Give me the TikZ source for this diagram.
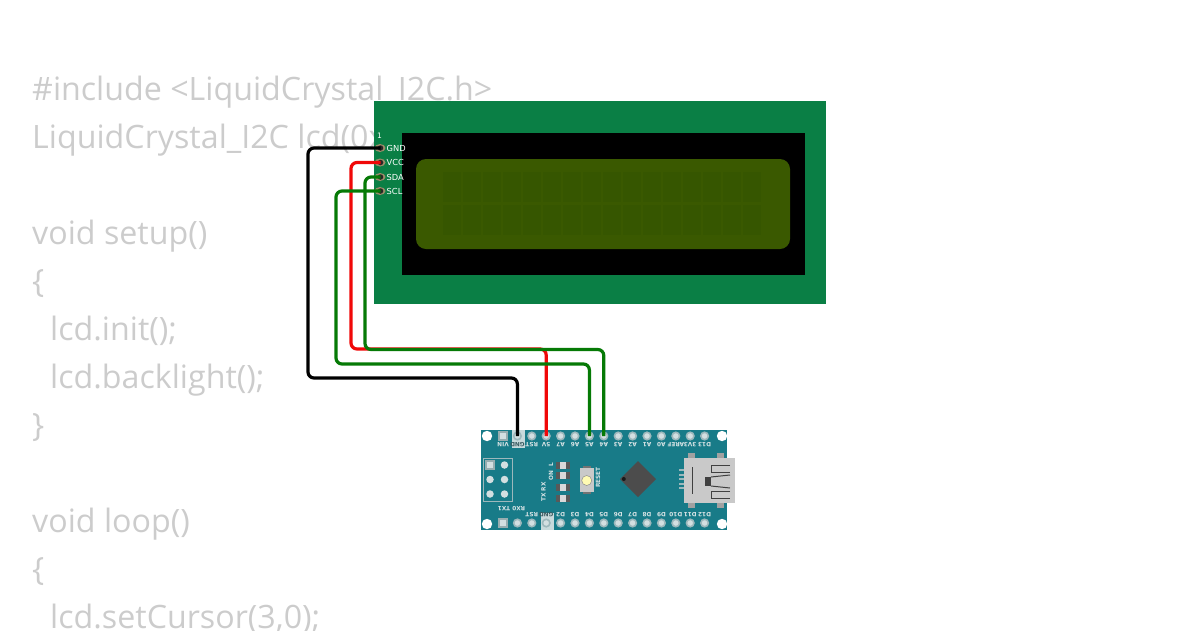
\documentclass[tikz,border=0pt]{standalone}
\usepackage{fontspec}
\setmainfont{Open Sans}
\newfontfamily\pinfont{DejaVu Sans}
\usetikzlibrary{
  shapes.geometric,
  calc
}
\definecolor{codegray}{HTML}{CCCCCC}
\definecolor{lcdgreen}{HTML}{0A7F45}
\definecolor{lcdscreen}{HTML}{3A5900}
\definecolor{lcdcell}{HTML}{365600}
\definecolor{lcdpin}{HTML}{9A8C68}
\definecolor{nanoteal}{HTML}{187B88}
\definecolor{nanopin}{HTML}{9DB8BC}
\definecolor{nanolabel}{HTML}{D8E4E6}
\definecolor{nanodark}{HTML}{3A5A60}
\definecolor{nanomark}{HTML}{C8DADC}
\definecolor{usbgray}{HTML}{C9C9C9}
\definecolor{wiregreen}{HTML}{067A06}
\definecolor{wirered}{HTML}{F00808}
\tikzset{
  codeline/.style={
    anchor=base west, inner sep=0pt, text=codegray, font=\fontsize{32.2}{32}\selectfont
  },
  lcdpinpad/.style={
    ellipse, fill=lcdpin, minimum width=11pt, minimum height=8pt, inner sep=0pt
  },
  lcdlabel/.style={
    anchor=west, inner sep=0pt, text=white, font=\pinfont\fontsize{8.3}{9}\selectfont
  },
  nanohole/.style={
    circle, fill=white!55!nanopin, draw=nanopin, line width=1.6pt, minimum size=7.5pt, inner sep=0pt
  },
  nanosquare/.style={
    rectangle, fill=white!55!nanopin, draw=nanopin!80!gray, line width=1.6pt, minimum size=7.5pt, inner sep=0pt
  },
  nanotext/.style={
    inner sep=0pt, text=nanolabel, font=\pinfont\bfseries\fontsize{5.8}{6}\selectfont
  },
  wire/.style={
    line width=3.2pt, rounded corners=6pt
  }
}
\begin{document}
\begin{tikzpicture}[x=1pt,y=-1pt]
\useasboundingbox (0,0) rectangle (1200,630);
% code behind the parts
\node[codeline] (code1) at (32,100) {\#include <LiquidCrystal\_I2C.h>};
\node[codeline] (code2) at (32,148) {LiquidCrystal\_I2C lcd(0x};
\node[codeline] (code3) at (32,244) {void setup()};
\node[codeline] (code4) at (32,292) {\{};
\node[codeline] (code5) at (50,340) {lcd.init();};
\node[codeline] (code6) at (50,388) {lcd.backlight();};
\node[codeline] (code7) at (32,436) {\}};
\node[codeline] (code8) at (32,532) {void loop()};
\node[codeline] (code9) at (32,580) {\{};
\node[codeline] (code10) at (50,628) {lcd.setCursor(3,0);};

% lcd
\fill[lcdgreen] (374,101) rectangle (826,303.5);
\fill[black] (402,133) rectangle (805,275);
\fill[lcdscreen, rounded corners=10pt] (416,159) rectangle (790,249);
\foreach \col in {0,...,15}
  \foreach \row in {172,205}
    \fill[lcdcell] ({443+20*\col},\row) rectangle ++(18,30);
\node[lcdlabel, font=\pinfont\fontsize{7.5}{8}\selectfont] (lcdOne) at (377,135.5) {1};
\foreach \name/\y in {GND/148,VCC/162.5,SDA/177,SCL/191}{
  \node[lcdpinpad] (lcdPad\name) at (380,\y) {};
  \node[circle, fill=black!85, minimum size=5.5pt, inner sep=0pt] (lcd\name) at (380.5,\y) {};
  \node[lcdlabel] (lcdText\name) at (386.5,\y) {\name};
}

% nano
\fill[nanoteal] (481,430) rectangle (726.5,530);
\foreach \x/\y in {487/436,722/436,487/524,722/524}
  \fill[white] (\x,\y) circle (5.2);
\fill[nanomark] (511.5,430) rectangle (525,447.5);
\fill[nanomark] (540.5,513) rectangle (554,530);
\foreach \name/\tcol [count=\i from 0] in {VIN/nanolabel,GND/nanodark,RST/nanolabel,5V/nanolabel,A7/nanolabel,A6/nanolabel,A5/nanolabel,A4/nanolabel,A3/nanolabel,A2/nanolabel,A1/nanolabel,A0/nanolabel,AREF/nanolabel,3V3/nanolabel,D13/nanolabel}{
  \node[nanohole] (nano\name) at ({503+14.4*\i},436) {};
  \node[nanotext, rotate=180, text=\tcol] (nanoText\name) at ({503+14.4*\i},444.5) {\name};
}
\node[nanosquare] (nanoVINsq) at (nanoVIN) {};
\foreach \name/\txt/\tcol [count=\i from 0] in {TX//nanolabel,RX//nanolabel,RSTb/RST/nanolabel,GNDb/GND/nanodark,D2/D2/nanolabel,D3/D3/nanolabel,D4/D4/nanolabel,D5/D5/nanolabel,D6/D6/nanolabel,D7/D7/nanolabel,D8/D8/nanolabel,D9/D9/nanolabel,D10/D10/nanolabel,D11/D11/nanolabel,D12/D12/nanolabel}{
  \node[nanohole] (nano\name) at ({503+14.4*\i},523) {};
  \node[nanotext, rotate=180, text=\tcol] (nanoText\name) at ({503+14.4*\i},514.5) {\txt};
}
\node[nanosquare] (nanoTXsq) at (nanoTX) {};
\node[nanotext, rotate=180] (nanoTextRxTx) at (511.5,509) {RX0 TX1};

% icsp header
\draw[nanopin, line width=.7pt] (483,458) rectangle (512,501);
\foreach \x in {490,504.5}
  \foreach \y in {465,479.5,494}
    \node[nanohole, draw=none, fill=white!55!nanopin] (icsp\x\y) at (\x,\y) {};
\node[nanosquare] (icspOne) at (490,465) {};

% leds and button
\foreach \y in {465,475.5,487,498}{
  \fill[black!65] (556,{\y-3.5}) rectangle (570,{\y+3.5});
  \fill[usbgray!70!white] (560,{\y-3.5}) rectangle (566,{\y+3.5});
}
\node[nanotext, rotate=90] (nanoTextOnL) at (551,472) {ON\ \ L};
\node[nanotext, rotate=90] (nanoTextTxRx) at (543.5,492) {TX RX};
\fill[usbgray] (580,468) rectangle (594,492);
\fill[black!55] (583,466) rectangle (591,468);
\fill[black!55] (583,492) rectangle (591,494);
\node[circle, fill=white!70!yellow, draw=usbgray!70!black, line width=.5pt, minimum size=10pt, inner sep=0pt] (nanoButton) at (586.7,480.5) {};
\node[nanotext, rotate=90] (nanoTextReset) at (598,477.5) {RESET};

% chip
\fill[black!70] (638,461) -- (656,479) -- (638,497) -- (620,479) -- cycle;
\fill[black!90] (623.8,479) circle (2);

% usb
\foreach \y in {470,474.5,479,483.5,488}
  \fill[nanopin] (679,{\y-1}) rectangle (684,{\y+1});
\foreach \x in {688,717}{
  \fill[usbgray!80!black] (\x,453) rectangle ++(7,5);
  \fill[usbgray!80!black] (\x,503) rectangle ++(7,5);
}
\fill[usbgray] (684,458) rectangle (734.5,503);
\draw[black!75, line width=1.1pt] (692.3,467) -- (692.3,494);
\fill[black!75] (705,477) rectangle (711,486);
\draw[black!75, line width=1pt] (730,465) -- (711,465) -- (711,472) -- (730,472);
\draw[black!75, line width=1pt] (711,477) -- (730,475) (711,486) -- (730,488);
\draw[black!75, line width=1pt] (730,491) -- (711,491) -- (711,498) -- (730,498);

% wires
\coordinate (gndBus) at (308,378);
\coordinate (vccBus) at (351,349);
\coordinate (sdaBus) at (365,349.5);
\coordinate (sclBus) at (336,364);
\draw[wire, black] (lcdGND.center) -| (gndBus) -| (nanoGND.center);
\draw[wire, wirered] (lcdVCC.center) -| (vccBus) -| (nano5V.center);
\draw[wire, wiregreen] (lcdSCL.center) -| (sclBus) -| (nanoA5.center);
\draw[wire, wiregreen] (lcdSDA.center) -| (sdaBus) -| (nanoA4.center);
\end{tikzpicture}
\end{document}
